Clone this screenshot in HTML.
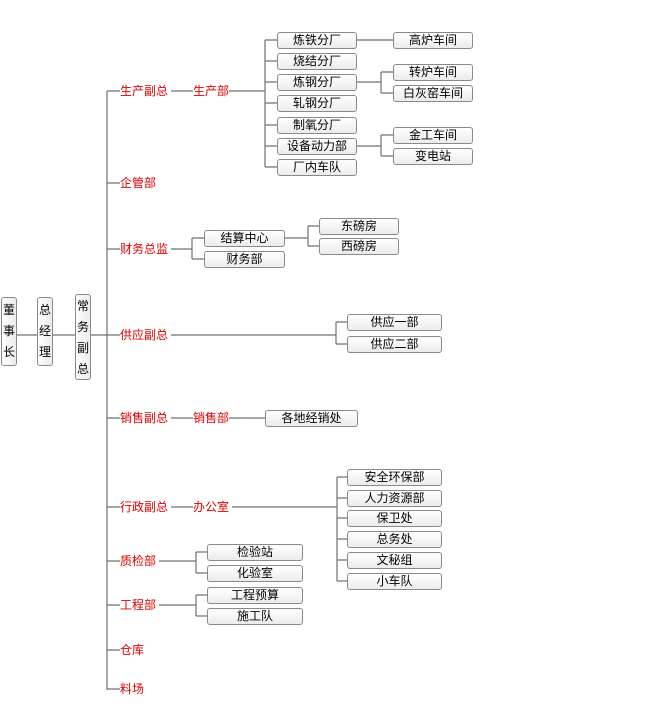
<!DOCTYPE html>
<html><head><meta charset="utf-8"><style>
body{margin:0;width:670px;height:713px;background:#fff;position:relative;overflow:hidden;font-family:"Liberation Sans","Noto Sans CJK SC","WenQuanYi Zen Hei",sans-serif;font-size:12px;}
svg{position:absolute;left:0;top:0}
.b{position:absolute;height:15px;line-height:15px;border:1px solid #8a8a8a;border-radius:3px;background:linear-gradient(#fff,#ececec);text-align:center;color:#000;box-sizing:border-box;height:17px;}
.r{position:absolute;color:#e00000;line-height:14px;white-space:nowrap}
.v{position:absolute;width:16px;border:1px solid #8a8a8a;border-radius:3px;background:linear-gradient(90deg,#fff,#ececec);box-sizing:border-box;text-align:center;line-height:21px;color:#000}
</style></head><body>
<svg width="670" height="713" stroke="#707070" stroke-width="1.2" fill="none">
<path d="M17 335H38M53 335H76M91 335H107M107 91V690"/>
<path d="M107 91H120M107 183H120M107 249H120M107 335H120M107 418H120M107 507H120M107 561H120M107 605H120M107 650H120M107 689H120"/>
<path d="M171 91H193M229 91H265M265 40V167M265 40H277M265 61H277M265 82H277M265 103H277M265 125H277M265 146H277M265 167H277"/>
<path d="M356 40H393M356 82H381M381 72V93M381 72H393M381 93H393M356 146H381M381 135V156M381 135H393M381 156H393"/>
<path d="M171 249H192M192 238V259M192 238H204M192 259H204M284 238H308M308 226V246M308 226H319M308 246H319"/>
<path d="M171 335H336M336 322V344M336 322H347M336 344H347"/>
<path d="M171 418H193M229 418H265"/>
<path d="M171 507H193M232 507H337M337 477V581M337 477H347M337 498H347M337 518H347M337 539H347M337 560H347M337 581H347"/>
<path d="M159 561H196M196 552V573M196 552H207M196 573H207M159 605H196M196 595V616M196 595H207M196 616H207"/>
</svg>
<div class="v" style="left:1px;top:297px;height:69px;padding-top:2px">董<br>事<br>长</div>
<div class="v" style="left:37px;top:297px;height:69px;padding-top:2px">总<br>经<br>理</div>
<div class="v" style="left:75px;top:294px;height:86px;padding-top:1px">常<br>务<br>副<br>总</div>

<div class="r" style="left:120px;top:84px">生产副总</div>
<div class="r" style="left:193px;top:84px">生产部</div>
<div class="r" style="left:120px;top:176px">企管部</div>
<div class="r" style="left:120px;top:242px">财务总监</div>
<div class="r" style="left:120px;top:328px">供应副总</div>
<div class="r" style="left:120px;top:411px">销售副总</div>
<div class="r" style="left:193px;top:411px">销售部</div>
<div class="r" style="left:120px;top:500px">行政副总</div>
<div class="r" style="left:193px;top:500px">办公室</div>
<div class="r" style="left:120px;top:554px">质检部</div>
<div class="r" style="left:120px;top:598px">工程部</div>
<div class="r" style="left:120px;top:643px">仓库</div>
<div class="r" style="left:120px;top:682px">料场</div>

<div class="b" style="left:277px;top:32px;width:80px">炼铁分厂</div>
<div class="b" style="left:277px;top:53px;width:80px">烧结分厂</div>
<div class="b" style="left:277px;top:74px;width:80px">炼钢分厂</div>
<div class="b" style="left:277px;top:95px;width:80px">轧钢分厂</div>
<div class="b" style="left:277px;top:117px;width:80px">制氧分厂</div>
<div class="b" style="left:277px;top:138px;width:80px">设备动力部</div>
<div class="b" style="left:277px;top:159px;width:80px">厂内车队</div>
<div class="b" style="left:393px;top:32px;width:80px">高炉车间</div>
<div class="b" style="left:393px;top:64px;width:80px">转炉车间</div>
<div class="b" style="left:393px;top:85px;width:80px">白灰窑车间</div>
<div class="b" style="left:393px;top:127px;width:80px">金工车间</div>
<div class="b" style="left:393px;top:148px;width:80px">变电站</div>

<div class="b" style="left:204px;top:230px;width:81px">结算中心</div>
<div class="b" style="left:204px;top:251px;width:81px">财务部</div>
<div class="b" style="left:319px;top:218px;width:80px">东磅房</div>
<div class="b" style="left:319px;top:238px;width:80px">西磅房</div>

<div class="b" style="left:347px;top:314px;width:95px">供应一部</div>
<div class="b" style="left:347px;top:336px;width:95px">供应二部</div>

<div class="b" style="left:265px;top:410px;width:93px">各地经销处</div>

<div class="b" style="left:347px;top:469px;width:95px">安全环保部</div>
<div class="b" style="left:347px;top:490px;width:95px">人力资源部</div>
<div class="b" style="left:347px;top:510px;width:95px">保卫处</div>
<div class="b" style="left:347px;top:531px;width:95px">总务处</div>
<div class="b" style="left:347px;top:552px;width:95px">文秘组</div>
<div class="b" style="left:347px;top:573px;width:95px">小车队</div>

<div class="b" style="left:207px;top:544px;width:96px">检验站</div>
<div class="b" style="left:207px;top:565px;width:96px">化验室</div>
<div class="b" style="left:207px;top:587px;width:96px">工程预算</div>
<div class="b" style="left:207px;top:608px;width:96px">施工队</div>
</body></html>
